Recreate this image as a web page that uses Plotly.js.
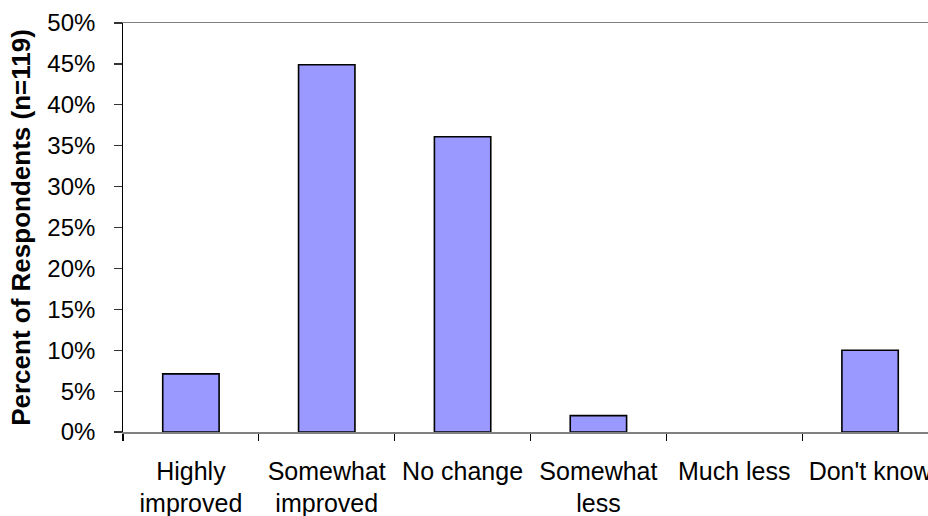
<!DOCTYPE html>
<html>
<head>
<meta charset="utf-8">
<script src="https://cdn.plot.ly/plotly-3.0.1.min.js"></script>
<style>
  html, body { margin: 0; padding: 0; overflow: hidden; background: #fff; }
  #chart { width: 940px; height: 516px; }
</style>
</head>
<body>
<div id="chart"></div>
<script>
// Survey responses: share of respondents per answer (n=119)
const categories = [
  "Highly<br>improved",
  "Somewhat<br>improved",
  "No change",
  "Somewhat<br>less",
  "Much less",
  "Don't know"
];
const percentValues = [7.1, 44.9, 36.1, 2.0, 0, 10.0];
const yTickValues = [0, 5, 10, 15, 20, 25, 30, 35, 40, 45, 50];
const yTickLabels = ["0%", "5%", "10%", "15%", "20%", "25%", "30%", "35%", "40%", "45%", "50%"];

const fontFamily = "'Liberation Sans', Arial, sans-serif";

// zero-height bars get no outline so no stray stroke sits on the baseline
const outlineWidths = percentValues.map(v => (v > 0 ? 1.6 : 0));

// trailing no-break spaces keep the y labels clear of the tick marks
const paddedYLabels = yTickLabels.map(s => s + "\u00A0\u00A0");

const trace = {
  type: "bar",
  x: categories,
  y: percentValues,
  width: 0.415,
  marker: {
    color: "#9999FF",
    line: { color: "#000000", width: outlineWidths }
  },
  hoverinfo: "skip"
};

const layout = {
  width: 940,
  height: 516,
  margin: { l: 123, r: 2, t: 23, b: 83.5 },
  paper_bgcolor: "#ffffff",
  plot_bgcolor: "#ffffff",
  showlegend: false,
  font: { family: fontFamily, size: 24, color: "#000000" },
  xaxis: {
    type: "category",
    range: [-0.5, 5.5],
    showgrid: false,
    zeroline: false,
    showline: true,
    linecolor: "#808080",
    linewidth: 1.5,
    mirror: true,
    ticks: "outside",
    tickson: "boundaries",
    ticklen: 7,
    tickwidth: 1.2,
    tickcolor: "#000000",
    ticklabelstandoff: 16,
    tickfont: { family: fontFamily, size: 25, color: "#000000" }
  },
  yaxis: {
    range: [0, 50],
    tickvals: yTickValues,
    ticktext: paddedYLabels,
    showgrid: false,
    zeroline: false,
    showline: true,
    linecolor: "#000000",
    linewidth: 1.5,
    ticks: "outside",
    ticklen: 8,
    tickwidth: 1.2,
    tickcolor: "#333333",
    tickfont: { family: fontFamily, size: 24, color: "#000000" },
    title: {
      text: "Percent of Respondents (n=119)",
      font: { family: fontFamily, size: 26, color: "#000000", weight: "bold" },
      standoff: 9
    }
  },
  bargap: 0.585
};

Plotly.newPlot("chart", [trace], layout, { displayModeBar: false, staticPlot: true });
</script>
</body>
</html>
